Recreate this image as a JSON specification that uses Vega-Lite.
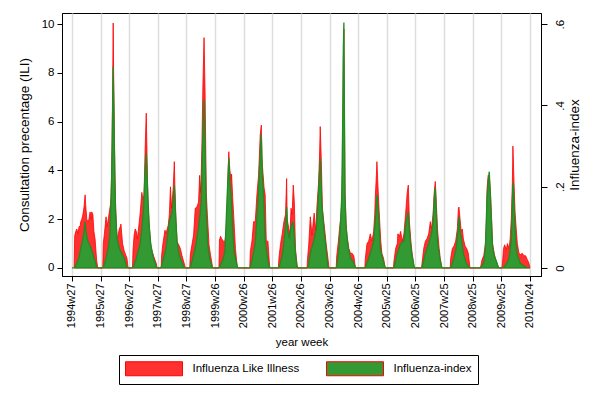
{
"$schema": "https://vega.github.io/schema/vega-lite/v6.json",
"width": 479, "height": 263,
"autosize": {"type": "none"},
"padding": {"left": 62, "top": 13, "right": 59, "bottom": 124},
"background": "white",
"config": {
 "font": "Liberation Sans",
 "view": {"stroke": "#000", "strokeWidth": 1},
 "axis": {"labelColor": "#000", "titleColor": "#000", "tickColor": "#000", "domainColor": "#000", "titleFontWeight": "normal", "labelFont": "Liberation Sans", "titleFont": "Liberation Sans"},
 "legend": {"labelFont": "Liberation Sans", "labelColor": "#000"}
},
"datasets": {
"ili": [
{"w":4,"v":0},{"w":5,"v":1.3},{"w":7,"v":1.5},{"w":9,"v":1.6},{"w":11,"v":1.4},{"w":13,"v":1.7},{"w":15,"v":1.7},{"w":16,"v":1.9},{"w":18,"v":2.0},{"w":20,"v":2.2},{"w":22,"v":2.5},{"w":24,"v":3.0},{"w":25,"v":2.6},{"w":27,"v":2.0},{"w":29,"v":1.9},{"w":31,"v":2.0},{"w":33,"v":2.3},{"w":35,"v":2.0},{"w":36,"v":2.3},{"w":38,"v":2.2},{"w":40,"v":1.5},{"w":42,"v":1.2},{"w":44,"v":0.6},{"w":45,"v":0.3},{"w":47,"v":0},
{"w":56,"v":0},{"w":57,"v":1.0},{"w":59,"v":1.4},{"w":62,"v":2.1},{"w":64,"v":1.7},{"w":66,"v":2.0},{"w":68,"v":2.3},{"w":70,"v":2.6},{"w":71,"v":2.9},{"w":72,"v":3.8},{"w":73,"v":5.1},{"w":74,"v":7.6},{"w":75,"v":10.05},{"w":76,"v":7.5},{"w":77,"v":6.0},{"w":78,"v":4.0},{"w":79,"v":2.9},{"w":81,"v":1.6},{"w":82,"v":1.2},{"w":84,"v":1.35},{"w":86,"v":1.6},{"w":88,"v":1.7},{"w":89,"v":1.8},{"w":92,"v":1.0},{"w":95,"v":0.7},{"w":100,"v":0.4},{"w":102,"v":0},
{"w":110,"v":0},{"w":111,"v":0.74},{"w":113,"v":1.35},{"w":115,"v":1.6},{"w":117,"v":1.5},{"w":119,"v":1.2},{"w":121,"v":1.6},{"w":124,"v":2.25},{"w":127,"v":3.1},{"w":129,"v":2.8},{"w":131,"v":3.0},{"w":133,"v":4.9},{"w":135,"v":6.35},{"w":136,"v":5.2},{"w":137,"v":4.0},{"w":138,"v":2.7},{"w":141,"v":1.55},{"w":144,"v":0.8},{"w":149,"v":0.45},{"w":153,"v":0.2},{"w":155,"v":0},
{"w":162,"v":0},{"w":163,"v":0.53},{"w":165,"v":0.95},{"w":169,"v":1.55},{"w":171,"v":1.4},{"w":173,"v":1.6},{"w":175,"v":1.75},{"w":177,"v":2.2},{"w":179,"v":3.33},{"w":181,"v":2.45},{"w":183,"v":3.0},{"w":184,"v":3.3},{"w":186,"v":4.36},{"w":187,"v":3.4},{"w":188,"v":2.7},{"w":189,"v":1.9},{"w":191,"v":1.08},{"w":194,"v":0.95},{"w":197,"v":0.8},{"w":200,"v":0.5},{"w":205,"v":0.1},{"w":206,"v":0},
{"w":214,"v":0},{"w":215,"v":0.53},{"w":218,"v":0.95},{"w":221,"v":1.35},{"w":224,"v":2.45},{"w":227,"v":2.5},{"w":230,"v":2.7},{"w":232,"v":3.8},{"w":234,"v":3.1},{"w":236,"v":4.9},{"w":238,"v":7.6},{"w":240,"v":9.45},{"w":242,"v":7.0},{"w":244,"v":3.1},{"w":246,"v":2.2},{"w":249,"v":0.95},{"w":252,"v":0.5},{"w":255,"v":0.1},{"w":256,"v":0},
{"w":267,"v":0},{"w":268,"v":1.15},{"w":270,"v":1.3},{"w":272,"v":1.2},{"w":275,"v":1.1},{"w":278,"v":1.1},{"w":280,"v":1.5},{"w":282,"v":2.4},{"w":283,"v":3.5},{"w":285,"v":4.77},{"w":286,"v":4.3},{"w":287,"v":4.0},{"w":289,"v":3.6},{"w":290,"v":3.85},{"w":292,"v":2.9},{"w":295,"v":1.65},{"w":297,"v":0.8},{"w":300,"v":0.1},{"w":301,"v":0},
{"w":323,"v":0},{"w":324,"v":0.67},{"w":327,"v":1.1},{"w":330,"v":1.9},{"w":333,"v":1.9},{"w":336,"v":3.0},{"w":339,"v":3.8},{"w":342,"v":5.45},{"w":344,"v":5.86},{"w":345,"v":4.6},{"w":346,"v":4.2},{"w":349,"v":3.3},{"w":351,"v":3.0},{"w":353,"v":1.1},{"w":356,"v":1.1},{"w":359,"v":0.1},{"w":360,"v":0},
{"w":375,"v":0},{"w":376,"v":0.4},{"w":379,"v":1.0},{"w":382,"v":1.4},{"w":385,"v":1.9},{"w":388,"v":2.2},{"w":390,"v":3.67},{"w":391,"v":2.0},{"w":394,"v":1.6},{"w":396,"v":1.4},{"w":398,"v":2.45},{"w":400,"v":2.2},{"w":402,"v":3.4},{"w":404,"v":2.7},{"w":406,"v":0.8},{"w":409,"v":0.1},{"w":410,"v":0},
{"w":427,"v":0},{"w":428,"v":0.4},{"w":430,"v":0.9},{"w":433,"v":2.1},{"w":436,"v":1.35},{"w":440,"v":2.25},{"w":443,"v":1.5},{"w":445,"v":2.5},{"w":448,"v":3.5},{"w":450,"v":4.8},{"w":451,"v":5.8},{"w":453,"v":4.4},{"w":455,"v":2.4},{"w":459,"v":1.6},{"w":462,"v":0.95},{"w":465,"v":0.4},{"w":467,"v":0},
{"w":480,"v":0},{"w":481,"v":0.5},{"w":484,"v":1.1},{"w":486,"v":1.6},{"w":488,"v":2.0},{"w":490,"v":2.6},{"w":491,"v":3.0},{"w":492,"v":5.5},{"w":493,"v":8.5},{"w":494,"v":9.8},{"w":495,"v":6.0},{"w":496,"v":3.2},{"w":498,"v":1.8},{"w":500,"v":1.25},{"w":503,"v":0.8},{"w":506,"v":0.6},{"w":509,"v":0.6},{"w":512,"v":0.5},{"w":515,"v":0},
{"w":532,"v":0},{"w":533,"v":0.4},{"w":536,"v":1.0},{"w":539,"v":1.1},{"w":542,"v":1.4},{"w":545,"v":1.1},{"w":548,"v":1.5},{"w":550,"v":2.2},{"w":551,"v":2.9},{"w":553,"v":3.8},{"w":554,"v":4.36},{"w":556,"v":3.3},{"w":559,"v":1.9},{"w":561,"v":1.1},{"w":563,"v":0.6},{"w":566,"v":0.4},{"w":569,"v":0},
{"w":584,"v":0},{"w":585,"v":0.3},{"w":588,"v":0.8},{"w":591,"v":1.0},{"w":592,"v":1.4},{"w":595,"v":1.3},{"w":597,"v":1.5},{"w":600,"v":1.1},{"w":603,"v":1.4},{"w":606,"v":2.2},{"w":609,"v":3.1},{"w":611,"v":3.4},{"w":613,"v":1.9},{"w":616,"v":1.0},{"w":618,"v":0.6},{"w":621,"v":0.1},{"w":622,"v":0},
{"w":635,"v":0},{"w":636,"v":0.2},{"w":639,"v":0.8},{"w":642,"v":1.1},{"w":645,"v":1.2},{"w":648,"v":1.4},{"w":651,"v":1.9},{"w":653,"v":1.6},{"w":656,"v":2.2},{"w":658,"v":3.1},{"w":660,"v":3.55},{"w":662,"v":2.6},{"w":664,"v":1.6},{"w":667,"v":0.8},{"w":669,"v":0.4},{"w":672,"v":0},
{"w":687,"v":0},{"w":688,"v":0.4},{"w":691,"v":0.8},{"w":694,"v":0.9},{"w":697,"v":1.1},{"w":700,"v":1.6},{"w":702,"v":2.45},{"w":703,"v":2.5},{"w":705,"v":2.0},{"w":707,"v":1.5},{"w":709,"v":1.6},{"w":711,"v":1.2},{"w":714,"v":0.9},{"w":717,"v":0.8},{"w":720,"v":0.6},{"w":723,"v":0},
{"w":742,"v":0},{"w":745,"v":0.35},{"w":748,"v":0.5},{"w":751,"v":1.0},{"w":753,"v":2.0},{"w":754,"v":3.26},{"w":756,"v":3.8},{"w":758,"v":3.75},{"w":760,"v":3.2},{"w":762,"v":2.2},{"w":764,"v":1.0},{"w":767,"v":0.6},{"w":769,"v":0.4},{"w":772,"v":0.2},{"w":775,"v":0},
{"w":781,"v":0},{"w":782,"v":0.2},{"w":784,"v":0.8},{"w":786,"v":0.95},{"w":789,"v":0.75},{"w":791,"v":1.0},{"w":794,"v":0.8},{"w":796,"v":1.2},{"w":798,"v":2.0},{"w":800,"v":3.5},{"w":801,"v":5.0},{"w":803,"v":3.5},{"w":805,"v":2.25},{"w":807,"v":1.6},{"w":809,"v":1.0},{"w":812,"v":0.6},{"w":815,"v":0.55},{"w":818,"v":0.6},{"w":821,"v":0.5},{"w":824,"v":0.5},{"w":827,"v":0.35},{"w":830,"v":0.2},{"w":832,"v":0}
],
"idx": [
{"w":0,"v":0},
{"w":5,"v":0},{"w":9,"v":0.012},{"w":13,"v":0.027},{"w":16,"v":0.048},{"w":20,"v":0.072},{"w":22,"v":0.09},{"w":24,"v":0.114},{"w":25,"v":0.096},{"w":27,"v":0.078},{"w":29,"v":0.066},{"w":31,"v":0.06},{"w":33,"v":0.054},{"w":35,"v":0.048},{"w":36,"v":0.042},{"w":38,"v":0.036},{"w":40,"v":0.024},{"w":42,"v":0.018},{"w":44,"v":0.006},{"w":45,"v":0},
{"w":57,"v":0},{"w":62,"v":0.024},{"w":66,"v":0.048},{"w":69,"v":0.081},{"w":72,"v":0.21},{"w":74,"v":0.39},{"w":75,"v":0.495},{"w":76,"v":0.408},{"w":77,"v":0.306},{"w":79,"v":0.144},{"w":82,"v":0.072},{"w":85,"v":0.054},{"w":88,"v":0.042},{"w":95,"v":0.024},{"w":100,"v":0},
{"w":111,"v":0},{"w":117,"v":0.024},{"w":124,"v":0.06},{"w":127,"v":0.096},{"w":130,"v":0.144},{"w":133,"v":0.24},{"w":135,"v":0.282},{"w":137,"v":0.21},{"w":140,"v":0.111},{"w":143,"v":0.06},{"w":148,"v":0.024},{"w":154,"v":0},
{"w":162,"v":0},{"w":171,"v":0.048},{"w":177,"v":0.114},{"w":181,"v":0.132},{"w":183,"v":0.147},{"w":186,"v":0.204},{"w":188,"v":0.138},{"w":191,"v":0.065},{"w":195,"v":0.03},{"w":204,"v":0},
{"w":215,"v":0},{"w":224,"v":0.048},{"w":230,"v":0.099},{"w":235,"v":0.162},{"w":236,"v":0.228},{"w":238,"v":0.336},{"w":240,"v":0.414},{"w":242,"v":0.294},{"w":244,"v":0.147},{"w":246,"v":0.066},{"w":250,"v":0.024},{"w":255,"v":0},
{"w":268,"v":0},{"w":275,"v":0.024},{"w":278,"v":0.042},{"w":281,"v":0.144},{"w":283,"v":0.21},{"w":285,"v":0.27},{"w":287,"v":0.21},{"w":290,"v":0.162},{"w":292,"v":0.09},{"w":295,"v":0.036},{"w":301,"v":0},
{"w":324,"v":0},{"w":328,"v":0.024},{"w":333,"v":0.06},{"w":338,"v":0.162},{"w":341,"v":0.252},{"w":344,"v":0.33},{"w":346,"v":0.228},{"w":349,"v":0.15},{"w":351,"v":0.066},{"w":356,"v":0.018},{"w":359,"v":0},
{"w":376,"v":0},{"w":381,"v":0.024},{"w":384,"v":0.048},{"w":388,"v":0.102},{"w":390,"v":0.15},{"w":392,"v":0.09},{"w":395,"v":0.072},{"w":398,"v":0.102},{"w":401,"v":0.114},{"w":403,"v":0.096},{"w":406,"v":0.036},{"w":409,"v":0},
{"w":429,"v":0},{"w":433,"v":0.036},{"w":439,"v":0.066},{"w":444,"v":0.096},{"w":447,"v":0.159},{"w":451,"v":0.27},{"w":454,"v":0.159},{"w":458,"v":0.09},{"w":462,"v":0.042},{"w":465,"v":0},
{"w":481,"v":0},{"w":485,"v":0.048},{"w":488,"v":0.114},{"w":490,"v":0.174},{"w":491,"v":0.27},{"w":492,"v":0.378},{"w":493,"v":0.54},{"w":494,"v":0.604},{"w":495,"v":0.378},{"w":496,"v":0.174},{"w":498,"v":0.099},{"w":502,"v":0.048},{"w":506,"v":0.024},{"w":512,"v":0.012},{"w":515,"v":0},
{"w":533,"v":0},{"w":542,"v":0.036},{"w":548,"v":0.066},{"w":552,"v":0.132},{"w":554,"v":0.18},{"w":557,"v":0.132},{"w":560,"v":0.048},{"w":563,"v":0.03},{"w":569,"v":0},
{"w":585,"v":0},{"w":591,"v":0.036},{"w":597,"v":0.06},{"w":603,"v":0.066},{"w":607,"v":0.114},{"w":611,"v":0.138},{"w":613,"v":0.09},{"w":617,"v":0.036},{"w":622,"v":0},
{"w":636,"v":0},{"w":642,"v":0.036},{"w":648,"v":0.06},{"w":653,"v":0.084},{"w":656,"v":0.114},{"w":658,"v":0.168},{"w":660,"v":0.198},{"w":662,"v":0.132},{"w":664,"v":0.066},{"w":668,"v":0.024},{"w":672,"v":0},
{"w":688,"v":0},{"w":694,"v":0.024},{"w":698,"v":0.048},{"w":701,"v":0.09},{"w":703,"v":0.126},{"w":705,"v":0.09},{"w":708,"v":0.066},{"w":711,"v":0.036},{"w":716,"v":0.012},{"w":722,"v":0},
{"w":742,"v":0},{"w":748,"v":0.012},{"w":751,"v":0.048},{"w":754,"v":0.174},{"w":756,"v":0.21},{"w":758,"v":0.237},{"w":760,"v":0.18},{"w":762,"v":0.114},{"w":764,"v":0.054},{"w":767,"v":0.03},{"w":772,"v":0.012},{"w":775,"v":0},
{"w":784,"v":0},{"w":790,"v":0.012},{"w":794,"v":0.024},{"w":798,"v":0.066},{"w":800,"v":0.162},{"w":801,"v":0.21},{"w":803,"v":0.162},{"w":805,"v":0.09},{"w":808,"v":0.036},{"w":814,"v":0.012},{"w":820,"v":0.006},{"w":826,"v":0},{"w":832,"v":0}
]
},
"encoding": {
 "x": {"field": "w", "type": "quantitative", "scale": {"domain": [-18, 852], "nice": false, "zero": false},
  "axis": {"values": [0,52,104,156,208,260,312,364,416,468,520,572,624,676,728,780,832],
   "labelExpr": "['1994w27','1995w27','1996w27','1997w27','1998w27','1999w26','2000w26','2001w26','2002w26','2003w26','2004w26','2005w25','2006w25','2007w25','2008w25','2009w25','2010w24'][round(datum.value/52)]",
   "labelAngle": 270, "labelFontSize": 11, "labelPadding": 2, "tickSize": 5, "labelOverlap": false, "labelFlush": false, "labelBound": false,
   "grid": true, "gridColor": "#dddddd", "gridWidth": 1.5,
   "title": "year week", "titleFontSize": 11.5, "titlePadding": 9}}
},
"layer": [
{
 "data": {"name": "ili"},
 "mark": {"type": "area", "stroke": "#ff0000", "strokeWidth": 0.8, "fillOpacity": 1},
 "encoding": {
  "y": {"field": "v", "type": "quantitative", "scale": {"domain": [-0.33, 10.46], "nice": false, "zero": false},
   "axis": {"orient": "left", "values": [0,2,4,6,8,10], "grid": false, "tickSize": 5, "labelFontSize": 11.5, "labelPadding": 3,
    "title": "Consultation precentage (ILI)", "titleFontSize": 13.5, "titlePadding": 10}},
  "y2": {"datum": 0},
  "fill": {"datum": "Influenza Like Illness", "type": "nominal",
   "scale": {"domain": ["Influenza Like Illness", "Influenza-index"], "range": ["#ff3030", "#339933"]},
   "legend": {"title": null, "orient": "none", "legendX": 57, "legendY": 342, "direction": "horizontal",
    "strokeColor": "#000", "fillColor": "#fff", "padding": 6,
    "symbolType": "M-4.07,-1H4.07V1H-4.07Z", "symbolSize": 196, "symbolOffset": 21.5, "labelOffset": 31,
    "columnPadding": 24, "labelFontSize": 11.5, "symbolStrokeWidth": 1, "symbolOpacity": 1}}
 }
},
{
 "data": {"name": "idx"},
 "mark": {"type": "area", "stroke": "#238b23", "strokeWidth": 1.3, "fillOpacity": 1},
 "encoding": {
  "y": {"field": "v", "type": "quantitative", "scale": {"domain": [-0.0198, 0.6276], "nice": false, "zero": false},
   "axis": {"orient": "right", "values": [0,0.2,0.4,0.6], "grid": false, "tickSize": 6, "labelFontSize": 11.5, "labelPadding": 7,
    "labelAngle": 270, "labelAlign": "center", "labelBaseline": "top", "labelExpr": "datum.value == 0 ? '0' : '.' + round(datum.value*10)",
    "title": "Influenza-index", "titleAngle": 270, "titleBaseline": "top", "titleFontSize": 13.5, "titlePadding": 2}},
  "y2": {"datum": 0},
  "fill": {"datum": "Influenza-index", "type": "nominal"}
 }
}
],
"resolve": {"scale": {"y": "independent"}}
}
